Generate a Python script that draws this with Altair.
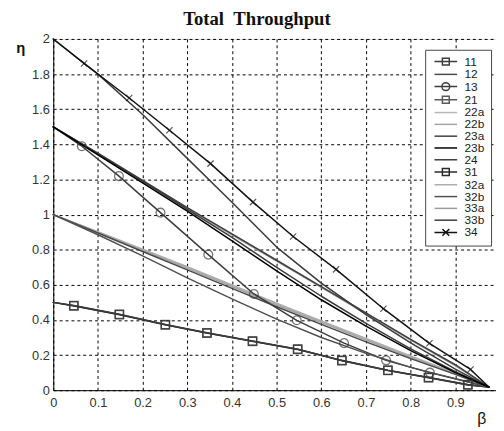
import altair as alt
import pandas as pd

# ---------------- data ----------------
series_names = ["11", "12", "13", "21", "22a", "22b", "23a", "23b", "24",
                "31", "32a", "32b", "33a", "33b", "34"]

beta_grid = [0, 0.1, 0.2, 0.3, 0.4, 0.5, 0.6, 0.7, 0.8, 0.9, 0.975]

eta_12 = [1.0, 0.895, 0.79, 0.685, 0.58, 0.475, 0.375, 0.275, 0.18, 0.09, 0.018]
eta_22a = [1.0, 0.90, 0.80, 0.70, 0.595, 0.49, 0.39, 0.29, 0.19, 0.095, 0.018]
eta_22b = [1.0, 0.898, 0.796, 0.694, 0.59, 0.485, 0.385, 0.285, 0.186, 0.093, 0.018]
eta_32a = [1.0, 0.902, 0.803, 0.703, 0.60, 0.495, 0.395, 0.295, 0.195, 0.098, 0.018]
eta_32b = [1.0, 0.885, 0.765, 0.64, 0.52, 0.405, 0.30, 0.21, 0.13, 0.065, 0.018]
eta_23a = [1.5, 1.35, 1.195, 1.04, 0.89, 0.74, 0.59, 0.44, 0.29, 0.145, 0.018]
eta_33a = [1.5, 1.345, 1.19, 1.035, 0.885, 0.735, 0.585, 0.435, 0.285, 0.14, 0.018]
eta_23b = [1.5, 1.34, 1.18, 1.02, 0.85, 0.68, 0.515, 0.365, 0.225, 0.10, 0.018]
eta_33b = [1.5, 1.345, 1.19, 1.03, 0.87, 0.70, 0.535, 0.38, 0.235, 0.105, 0.018]
eta_24 = [2.0, 1.80, 1.57, 1.32, 1.07, 0.815, 0.61, 0.43, 0.27, 0.12, 0.018]

beta_sq = [0, 0.046, 0.148, 0.251, 0.344, 0.446, 0.547, 0.646, 0.749, 0.840, 0.928, 0.975]
eta_11 = [0.5, 0.482, 0.432, 0.374, 0.327, 0.280, 0.234, 0.168, 0.112, 0.071, 0.030, 0.018]
eta_21 = [0.5, 0.480, 0.430, 0.372, 0.325, 0.278, 0.232, 0.170, 0.114, 0.073, 0.032, 0.018]
eta_31 = [0.5, 0.481, 0.431, 0.373, 0.326, 0.279, 0.233, 0.169, 0.113, 0.072, 0.031, 0.018]

beta_13 = [0, 0.064, 0.147, 0.240, 0.347, 0.449, 0.545, 0.651, 0.745, 0.843, 0.975]
eta_13 = [1.5, 1.389, 1.219, 1.011, 0.772, 0.548, 0.398, 0.268, 0.170, 0.100, 0.018]

beta_34 = [0, 0.069, 0.170, 0.260, 0.352, 0.447, 0.537, 0.633, 0.739, 0.842, 0.934, 0.975]
eta_34 = [2.0, 1.860, 1.664, 1.480, 1.290, 1.071, 0.875, 0.688, 0.464, 0.267, 0.118, 0.018]

x_ticks = [0, 0.1, 0.2, 0.3, 0.4, 0.5, 0.6, 0.7, 0.8, 0.9]

# ---------------- styles ----------------
colors = {"11": "#3c3c3c", "12": "#4a4a4a", "13": "#3c3c3c", "21": "#5a5a5a",
          "22a": "#b8b8b8", "22b": "#a4a4a4", "23a": "#404040", "23b": "#000000",
          "24": "#3a3a3a", "31": "#2a2a2a", "32a": "#acacac", "32b": "#505050",
          "33a": "#9c9c9c", "33b": "#3a3a3a", "34": "#111111"}
widths = {"11": 1.5, "12": 1.5, "13": 1.5, "21": 1.2, "22a": 1.2, "22b": 2.0,
          "23a": 1.5, "23b": 2.6, "24": 1.6, "31": 1.5, "32a": 1.6, "32b": 1.8,
          "33a": 2.0, "33b": 1.8, "34": 1.6}
P_LINE = "M-2.3,0H2.3"
P_SQ = "M-2.3,0H2.3M-0.7,-0.7H0.7V0.7H-0.7Z"
P_CI = "M-2.3,0H2.3M0.8,0A0.8,0.8 0 1,1 -0.8,0A0.8,0.8 0 1,1 0.8,0Z"
P_X = "M-2.3,0H2.3M-0.7,-0.7L0.7,0.7M-0.7,0.7L0.7,-0.7"
shapes = {"11": P_SQ, "13": P_CI, "21": P_SQ, "31": P_SQ, "34": P_X}

# ---------------- tables ----------------
curves = {"12": (beta_grid, eta_12), "22a": (beta_grid, eta_22a), "22b": (beta_grid, eta_22b),
          "32a": (beta_grid, eta_32a), "32b": (beta_grid, eta_32b), "23a": (beta_grid, eta_23a),
          "33a": (beta_grid, eta_33a), "23b": (beta_grid, eta_23b), "33b": (beta_grid, eta_33b),
          "24": (beta_grid, eta_24), "11": (beta_sq, eta_11), "21": (beta_sq, eta_21),
          "31": (beta_sq, eta_31), "13": (beta_13, eta_13), "34": (beta_34, eta_34)}
draw_order = ["22a", "22b", "32a", "33a", "12", "21", "31", "11", "13", "32b",
              "23a", "33b", "24", "23b", "34"]

rows = []
for k, s in enumerate(draw_order):
    bs, es = curves[s]
    for i, (b, e) in enumerate(zip(bs, es)):
        rows.append({"series": s, "beta": b, "eta": e, "o": k * 100 + i,
                     "marker": 0 < i < len(bs) - 1})
df = pd.DataFrame(rows)

leg_df = pd.DataFrame({"series": series_names,
                       "beta": [curves[s][0][0] for s in series_names],
                       "eta": [curves[s][1][0] for s in series_names]})

color_scale = alt.Scale(domain=series_names, range=[colors[s] for s in series_names])
width_scale = alt.Scale(domain=series_names, range=[widths[s] for s in series_names])
shape_scale = alt.Scale(domain=series_names, range=[shapes.get(s, P_LINE) for s in series_names])

x_enc = alt.X("beta:Q", scale=alt.Scale(domain=[0, 0.991], nice=False, zero=False),
              axis=alt.Axis(values=x_ticks, format="~g", title="β", titleX=435, titleY=34,
                            titleAngle=0, titleAlign="center", titleBaseline="alphabetic",
                            titleFontSize=16, titleFontWeight="normal", titleColor="#111",
                            grid=True, gridDash=[3, 3], gridColor="#000", gridOpacity=1,
                            gridWidth=1, ticks=False, domainColor="#000", domainWidth=1,
                            labelPadding=7, labelFontSize=13, labelColor="#333",
                            labelOverlap=False, labelFlush=False, labelBound=False,
                            labelFont="Liberation Sans"))
y_enc = alt.Y("eta:Q", scale=alt.Scale(domain=[0, 2], nice=False),
              axis=alt.Axis(tickCount=10, format="~g", title="η", titleX=-38, titleY=14,
                            titleAngle=0, titleAlign="left", titleBaseline="alphabetic",
                            titleFontSize=15, titleFontWeight="bold", titleColor="#111",
                            grid=True, gridDash=[3, 3], gridColor="#000", gridOpacity=1,
                            gridWidth=1, ticks=False, domainColor="#000", domainWidth=1,
                            labelPadding=4, labelFontSize=13, labelColor="#333",
                            labelOverlap=False, labelFlush=False, labelBound=False,
                            labelFont="Liberation Sans"))

leg = alt.Legend(title=None, orient="none", legendX=378, legendY=11,
                 symbolSize=100, symbolOpacity=1, symbolStrokeWidth=1.6,
                 symbolOffset=9, labelOffset=13,
                 labelFontSize=12, labelFont="Liberation Sans",
                 labelColor="#222", rowPadding=-0.6, padding=6,
                 strokeColor="#444", fillColor="white")

# invisible layer (drawn first) that only carries the legend
legend_layer = alt.Chart(leg_df).mark_point(filled=False).encode(
    x=x_enc, y=y_enc,
    size=alt.value(0),
    color=alt.Color("series:N", scale=color_scale, legend=leg),
    shape=alt.Shape("series:N", scale=shape_scale, legend=leg),
    strokeWidth=alt.StrokeWidth("series:N", scale=width_scale, legend=leg),
)

lines = alt.Chart(df).mark_line(strokeCap="round", strokeJoin="round").encode(
    x="beta:Q", y="eta:Q",
    color=alt.Color("series:N", scale=color_scale, legend=None),
    strokeWidth=alt.StrokeWidth("series:N", scale=width_scale, legend=None),
    order="o:Q",
)

mk = df[df["marker"]]
squares = alt.Chart(mk[mk["series"].isin(["11", "21", "31"])]).mark_point(
    shape="square", size=70, filled=False, strokeWidth=1.3).encode(
    x="beta:Q", y="eta:Q", color=alt.Color("series:N", scale=color_scale, legend=None))
circles = alt.Chart(mk[mk["series"] == "13"]).mark_point(
    shape="circle", size=80, filled=False, strokeWidth=1.3).encode(
    x="beta:Q", y="eta:Q", color=alt.Color("series:N", scale=color_scale, legend=None))
crosses = alt.Chart(mk[mk["series"] == "34"]).mark_point(
    shape="M-1,-1L1,1M-1,1L1,-1", size=40, filled=False, strokeWidth=1.2).encode(
    x="beta:Q", y="eta:Q", color=alt.Color("series:N", scale=color_scale, legend=None))

chart = alt.layer(legend_layer, lines, squares, circles, crosses).properties(
    width=450, height=357,
    autosize=alt.AutoSizeParams(type="none"),
    padding={"left": 46, "top": 28, "right": 0, "bottom": 38},
    title=alt.TitleParams("Total\u00a0\u00a0Throughput", font="Liberation Serif", fontSize=19,
                          fontWeight="bold", color="#111", anchor="middle", dx=-18, offset=4),
).configure_view(stroke="#000", strokeWidth=1).configure_axis(
    labelOverlap=False).configure(background="white")

chart.save("out.html", embed_options={"renderer": "svg", "actions": False})
